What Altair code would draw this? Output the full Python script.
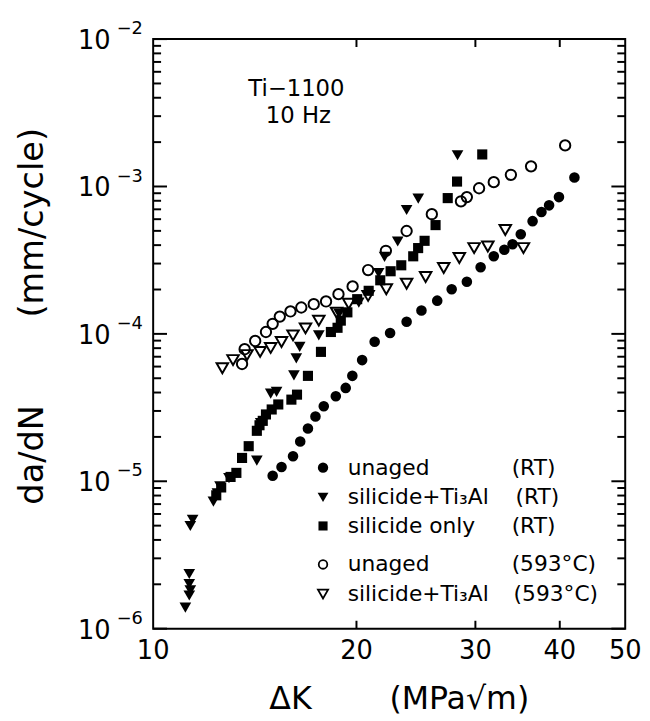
import altair as alt
import pandas as pd

# ---- data ----
unaged_rt_K = [15.03, 15.49, 16.11, 16.51, 16.95, 17.39, 17.89, 18.64, 19.28, 19.72, 20.39, 21.28, 22.43, 23.73,
               24.96, 26.34, 27.67, 29.14, 30.54, 31.94, 33.11, 34.05, 35.02, 36.46, 37.58, 38.57, 39.89, 42.05]
unaged_rt_dadn = [1.09e-5, 1.25e-5, 1.48e-5, 1.86e-5, 2.28e-5, 2.75e-5, 3.23e-5, 3.77e-5, 4.30e-5, 5.19e-5,
                  6.64e-5, 8.84e-5, 1.015e-4, 1.21e-4, 1.44e-4, 1.68e-4, 2.01e-4, 2.26e-4, 2.83e-4, 3.36e-4,
                  3.72e-4, 4.06e-4, 4.74e-4, 5.82e-4, 6.72e-4, 7.45e-4, 8.47e-4, 1.15e-3]

siltial_rt_K = [11.16, 11.31, 11.35, 11.31, 11.31, 11.35, 11.44, 12.28, 12.45, 12.56, 12.95, 14.24, 14.43, 14.93,
                15.23, 16.16, 16.29, 16.48, 17.59, 18.85, 20.16, 21.57, 22.01, 23.02, 23.73, 24.69, 28.23]
siltial_rt_dadn = [1.39e-6, 1.68e-6, 1.82e-6, 2.01e-6, 2.35e-6, 4.97e-6, 5.48e-6, 7.28e-6, 8.28e-6, 9.26e-6,
                   1.05e-5, 1.38e-5, 2.48e-5, 3.93e-5, 4.04e-5, 5.23e-5, 6.82e-5, 8.16e-5, 9.77e-5, 1.37e-4,
                   1.63e-4, 2.59e-4, 3.33e-4, 4.23e-4, 6.93e-4, 8.28e-4, 1.63e-3]

silonly_rt_K = [12.40, 12.61, 13.02, 13.28, 13.54, 13.85, 14.24, 14.37, 14.53, 14.69, 14.98, 15.32, 16.02, 16.33,
                16.95, 17.72, 18.33, 18.75, 18.96, 19.39, 20.05, 20.85, 21.69, 22.47, 23.30, 24.27, 24.68, 25.23,
                26.19, 27.30, 28.18, 30.71]
silonly_rt_dadn = [8.03e-6, 9.08e-6, 1.07e-5, 1.14e-5, 1.44e-5, 1.73e-5, 2.20e-5, 2.40e-5, 2.57e-5, 2.84e-5,
                   3.07e-5, 3.32e-5, 3.58e-5, 3.87e-5, 5.19e-5, 7.55e-5, 1.03e-4, 1.10e-4, 1.23e-4, 1.40e-4,
                   1.72e-4, 1.96e-4, 2.31e-4, 2.66e-4, 2.92e-4, 3.36e-4, 3.82e-4, 4.28e-4, 5.47e-4, 8.34e-4,
                   1.08e-3, 1.65e-3]

unaged_593_K = [13.54, 13.66, 14.16, 14.69, 15.03, 15.40, 15.97, 16.57, 17.29, 18.03, 18.81, 19.74, 20.81, 22.11,
                23.73, 25.86, 28.56, 29.14, 30.38, 31.94, 33.86, 36.27, 40.74]
unaged_593_dadn = [6.25e-5, 7.87e-5, 8.95e-5, 1.03e-4, 1.17e-4, 1.31e-4, 1.42e-4, 1.51e-4, 1.59e-4, 1.66e-4,
                   1.86e-4, 2.10e-4, 2.71e-4, 3.66e-4, 4.99e-4, 6.49e-4, 7.93e-4, 8.47e-4, 9.73e-4, 1.07e-3,
                   1.20e-3, 1.37e-3, 1.90e-3]

siltial_593_K = [12.66, 13.13, 13.77, 14.40, 14.93, 15.49, 16.11, 16.81, 17.59, 18.69, 19.48, 20.81, 22.14, 23.73,
                 25.32, 26.93, 28.40, 29.87, 31.30, 33.22, 35.34]
siltial_593_dadn = [5.85e-5, 6.64e-5, 7.18e-5, 7.55e-5, 8.03e-5, 8.81e-5, 9.77e-5, 1.09e-4, 1.23e-4, 1.39e-4,
                    1.60e-4, 1.81e-4, 2.01e-4, 2.19e-4, 2.43e-4, 2.80e-4, 3.27e-4, 3.82e-4, 3.92e-4, 5.07e-4,
                    3.82e-4]

legend_labels = ["unaged", "silicide+Ti\u2083Al", "silicide only", "unaged", "silicide+Ti\u2083Al"]
legend_conds = ["(RT)", "(RT)", "(RT)", "(593\u00b0C)", "(593\u00b0C)"]

x_tick_labels = [10, 20, 30, 40, 50]
x_minor_ticks = [20, 30, 40]
y_exponents = [-6, -5, -4, -3, -2]

# ---- layout ----
W, H = 478, 597
FONT = "DejaVu Sans"
xs = alt.Scale(type="log", domain=[10, 50], nice=False)
ys = alt.Scale(type="log", domain=[1e-6, 1e-2], nice=False)


def xenc(f="K"):
    return alt.X(f"{f}:Q", scale=xs, axis=None)


def yenc(f="dadn"):
    return alt.Y(f"{f}:Q", scale=ys, axis=None)


def df(K, D):
    return pd.DataFrame({"K": K, "dadn": D})


layers = []
# data series
layers.append(alt.Chart(df(unaged_rt_K, unaged_rt_dadn)).mark_point(
    shape="circle", filled=True, color="black", size=115, opacity=1).encode(x=xenc(), y=yenc()))
layers.append(alt.Chart(df(siltial_rt_K, siltial_rt_dadn)).mark_point(
    shape="triangle-down", filled=True, color="black", size=140, opacity=1).encode(x=xenc(), y=yenc()))
layers.append(alt.Chart(df(silonly_rt_K, silonly_rt_dadn)).mark_point(
    shape="square", filled=True, color="black", size=105, opacity=1).encode(x=xenc(), y=yenc()))
layers.append(alt.Chart(df(unaged_593_K, unaged_593_dadn)).mark_point(
    shape="circle", filled=False, color="black", strokeWidth=2, size=110, opacity=1).encode(x=xenc(), y=yenc()))
layers.append(alt.Chart(df(siltial_593_K, siltial_593_dadn)).mark_point(
    shape="triangle-down", filled=False, color="black", strokeWidth=2, size=135, opacity=1).encode(x=xenc(), y=yenc()))

# frame ticks (inward)
major_y = [10.0 ** e for e in y_exponents]
minor_y = [m * 10.0 ** e for e in y_exponents[:-1] for m in range(2, 10)]
for vals, ln in [(major_y, 14), (minor_y, 8)]:
    d = pd.DataFrame({"v": vals})
    layers.append(alt.Chart(d).mark_rule(color="black", strokeWidth=2).encode(
        y=yenc("v"), x=alt.value(0), x2=alt.value(ln)))
    layers.append(alt.Chart(d).mark_rule(color="black", strokeWidth=2).encode(
        y=yenc("v"), x=alt.value(W), x2=alt.value(W - ln)))
dx = pd.DataFrame({"v": x_minor_ticks})
layers.append(alt.Chart(dx).mark_rule(color="black", strokeWidth=2).encode(
    x=xenc("v"), y=alt.value(H), y2=alt.value(H - 8)))
layers.append(alt.Chart(dx).mark_rule(color="black", strokeWidth=2).encode(
    x=xenc("v"), y=alt.value(0), y2=alt.value(8)))

# tick labels
dxl = pd.DataFrame({"v": x_tick_labels, "t": [str(v) for v in x_tick_labels]})
layers.append(alt.Chart(dxl).mark_text(font=FONT, fontSize=26, color="black", baseline="middle", align="center").encode(
    x=xenc("v"), y=alt.value(H + 23), text="t:N"))
dyl = pd.DataFrame({"v": major_y, "b": ["10"] * len(major_y),
                    "e": ["\u2212" + str(-e) for e in y_exponents]})
layers.append(alt.Chart(dyl).mark_text(font=FONT, fontSize=26, color="black", baseline="middle", align="right", dy=2).encode(
    y=yenc("v"), x=alt.value(-43), text="b:N"))
layers.append(alt.Chart(dyl).mark_text(font=FONT, fontSize=18, color="black", baseline="middle", align="left", dy=-10).encode(
    y=yenc("v"), x=alt.value(-37), text="e:N"))

one = alt.Data(values=[{}])


def label(txt, x, y, size, align="center", angle=0):
    return alt.Chart(one).mark_text(text=txt, font=FONT, fontSize=size, color="black",
                                    align=align, baseline="middle", angle=angle).encode(
        x=alt.value(x), y=alt.value(y))


# axis titles
layers.append(label("\u0394K", 139, 668, 32))
layers.append(label("(MPa\u221am)", 310, 668, 32))
layers.append(label("da/dN", -122, 421, 34, angle=270))
layers.append(label("(mm/cycle)", -122, 186, 34, angle=270))

# annotation
layers.append(label("Ti\u22121100", 145, 51, 23))
layers.append(label("10 Hz", 147, 78, 23))

# legend
rows_y = [434, 464, 493, 532, 562]
cond_x = [363, 367, 363, 363, 365]
marks = [dict(shape="circle", filled=True, size=110),
         dict(shape="triangle-down", filled=True, size=120),
         dict(shape="square", filled=True, size=85),
         dict(shape="circle", filled=False, size=75, strokeWidth=1.8),
         dict(shape="triangle-down", filled=False, size=105, strokeWidth=1.8)]
for i in range(5):
    layers.append(alt.Chart(one).mark_point(color="black", opacity=1, **marks[i]).encode(
        x=alt.value(172), y=alt.value(rows_y[i])))
    layers.append(label(legend_labels[i], 197, rows_y[i], 22, align="left"))
    layers.append(label(legend_conds[i], cond_x[i], rows_y[i], 22, align="left"))

chart = alt.layer(*layers).properties(
    width=W, height=H,
    autosize=alt.AutoSizeParams(type="none"),
    padding={"left": 147, "top": 27, "right": 17, "bottom": 88},
    background="white",
).configure_view(stroke="black", strokeWidth=2)

chart.save("out.html", embed_options={"renderer": "svg", "actions": False})
